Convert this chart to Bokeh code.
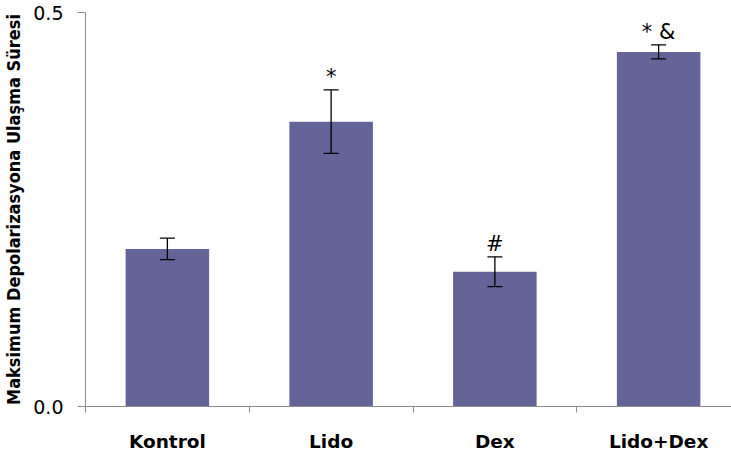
from bokeh.plotting import figure
from bokeh.models import ColumnDataSource, Range1d, FixedTicker, Whisker, TeeHead
from bokeh.core.properties import value
from bokeh.embed import file_html
from bokeh.resources import INLINE

categories = ["Kontrol", "Lido", "Dex", "Lido+Dex"]
means = [0.200, 0.3615, 0.171, 0.450]
errors = [0.0137, 0.0402, 0.0189, 0.0088]
marks = ["", "*", "#", "* &"]
y_ticks = [0.0, 0.5]
y_tick_labels = ["0.0", "0.5"]

centers = [i + 0.5 for i in range(len(categories))]
source = ColumnDataSource(dict(
    x=centers,
    top=means,
    upper=[m + e for m, e in zip(means, errors)],
    lower=[m - e for m, e in zip(means, errors)],
    mark=marks,
))

p = figure(width=731, height=454, output_backend="svg", toolbar_location=None,
           x_range=Range1d(0, 3.945), y_range=Range1d(0, 0.5),
           min_border_left=84, min_border_right=0, min_border_top=12, min_border_bottom=46)
p.outline_line_color = None
p.xgrid.grid_line_color = None
p.ygrid.grid_line_color = None
p.background_fill_color = "white"
p.border_fill_color = "white"

p.vbar(x="x", top="top", width=0.51, bottom=0, source=source,
       fill_color="#646498", line_color=None)

w = Whisker(base="x", upper="upper", lower="lower", source=source,
            line_color="black", line_width=1.3, level="overlay",
            upper_head=TeeHead(size=15, line_color="black", line_width=1.3),
            lower_head=TeeHead(size=15, line_color="black", line_width=1.3))
p.add_layout(w)

p.text(x="x", y="upper", text="mark", source=source, text_align="center",
       text_baseline="bottom", y_offset=-1, text_font=value("DejaVu Sans"),
       text_font_size="21px", text_color="black")

# x axis
p.xaxis.ticker = FixedTicker(ticks=centers, minor_ticks=[0, 1, 2, 3, 4])
p.xaxis.major_label_overrides = {c: lab for c, lab in zip(centers, categories)}
p.xaxis.major_tick_out = 0
p.xaxis.major_tick_in = 0
p.xaxis.minor_tick_out = 6
p.xaxis.minor_tick_in = 0
p.xaxis.minor_tick_line_color = "#8c8c8c"
p.xaxis.axis_line_color = "#8c8c8c"
p.xaxis.major_label_standoff = 18
p.xaxis.major_label_text_font = "DejaVu Sans"
p.xaxis.major_label_text_font_style = "bold"
p.xaxis.major_label_text_font_size = "18.5px"
p.xaxis.major_label_text_color = "black"

# y axis
p.yaxis.ticker = FixedTicker(ticks=y_ticks, minor_ticks=[])
p.yaxis.major_label_overrides = {t: l for t, l in zip(y_ticks, y_tick_labels)}
p.yaxis.major_tick_out = 8
p.yaxis.major_tick_in = 0
p.yaxis.major_tick_line_color = "#8c8c8c"
p.yaxis.axis_line_color = "#8c8c8c"
p.yaxis.major_label_standoff = 14
p.yaxis.major_label_text_font = "DejaVu Sans"
p.yaxis.major_label_text_font_size = "19px"
p.yaxis.major_label_text_color = "black"
p.yaxis.axis_label = "Maksimum Depolarizasyona Ulaşma Süresi"
p.yaxis.axis_label_text_font = "DejaVu Sans Condensed"
p.yaxis.axis_label_text_font_style = "bold"
p.yaxis.axis_label_text_font_size = "18px"
p.yaxis.axis_label_text_color = "black"
p.yaxis.axis_label_standoff = 6

open("out.html", "w").write(file_html(p, INLINE))
